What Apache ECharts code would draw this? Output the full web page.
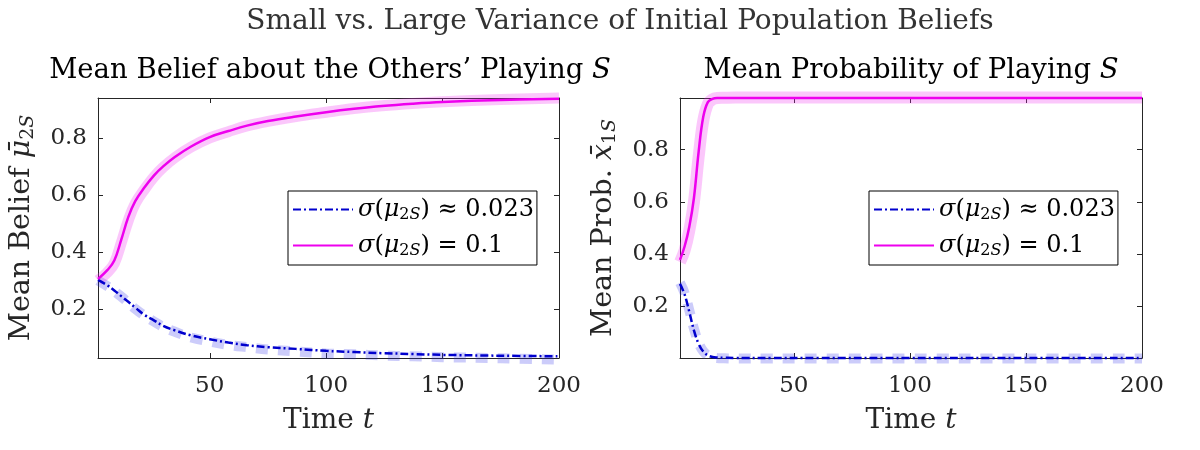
<!DOCTYPE html>
<html>
<head>
<meta charset="utf-8">
<script src="https://cdn.jsdelivr.net/npm/echarts@6/dist/echarts.min.js"></script>
<style>
  html, body { margin: 0; padding: 0; background: #fff; }
  #main { width: 1200px; height: 450px; }
</style>
</head>
<body>
<div id="main"></div>
<script>
// time steps
const timeL = [2, 6, 9, 12, 15, 18, 22, 26, 30, 35, 42, 50, 58, 66, 75, 87, 100, 112, 124, 137, 150, 175, 200];
const timeR = [1, 3, 5, 7, 9, 11, 13, 15, 17, 20, 25, 30, 40, 60, 100, 150, 200];

// left: mean belief (thin = simulated, thick = reference band)
const beliefSmall = [0.302, 0.283, 0.265, 0.245, 0.225, 0.205, 0.179, 0.160, 0.141, 0.125, 0.107, 0.094, 0.082, 0.073, 0.066, 0.060, 0.053, 0.049, 0.045, 0.042, 0.039, 0.036, 0.034];
const beliefLarge = [0.305, 0.336, 0.370, 0.443, 0.522, 0.578, 0.627, 0.668, 0.700, 0.733, 0.770, 0.803, 0.824, 0.843, 0.859, 0.875, 0.890, 0.902, 0.912, 0.920, 0.926, 0.933, 0.937];
const beliefSmallRef = [0.300, 0.280, 0.262, 0.243, 0.222, 0.200, 0.176, 0.156, 0.137, 0.120, 0.100, 0.086, 0.074, 0.066, 0.058, 0.051, 0.044, 0.041, 0.037, 0.034, 0.031, 0.027, 0.022];
const beliefLargeRef = [0.300, 0.328, 0.360, 0.432, 0.510, 0.570, 0.620, 0.663, 0.697, 0.731, 0.768, 0.800, 0.822, 0.842, 0.858, 0.875, 0.890, 0.903, 0.913, 0.921, 0.927, 0.935, 0.940];

// right: mean probability of playing S
const probSmall = [0.286, 0.245, 0.179, 0.108, 0.057, 0.027, 0.012, 0.006, 0.004, 0.003, 0.002, 0.002, 0.002, 0.002, 0.002, 0.002, 0.002];
const probLarge = [0.378, 0.430, 0.505, 0.615, 0.790, 0.925, 0.982, 0.995, 0.998, 0.998, 0.998, 0.998, 0.998, 0.998, 0.998, 0.998, 0.998];
const probSmallRef = [0.290, 0.250, 0.185, 0.115, 0.060, 0.028, 0.012, 0.005, 0.002, 0.001, 0.000, 0.000, 0.000, 0.000, 0.000, 0.000, 0.000];
const probLargeRef = [0.370, 0.415, 0.490, 0.600, 0.770, 0.910, 0.975, 0.993, 0.998, 0.999, 1.000, 1.000, 1.000, 1.000, 1.000, 1.000, 1.000];

const xTicks = [50, 100, 150, 200];
const yTicks = [0.2, 0.4, 0.6, 0.8];
const legendNames = ['small', 'large'];

const pairs = (t, v) => t.map((x, i) => [x, v[i]]);

const FONT = 'DejaVu Serif';
const INK = '#262626';

const mathRich = {
  n: { fontFamily: FONT, fontSize: 24, color: '#000' },
  i: { fontFamily: FONT, fontSize: 24, fontStyle: 'italic', color: '#000' },
  s: { fontFamily: FONT, fontSize: 16, color: '#000', padding: [11, 0, 0, 0] },
  si: { fontFamily: FONT, fontSize: 16, fontStyle: 'italic', color: '#000', padding: [11, 0, 0, 0] }
};

const chart = echarts.init(document.getElementById('main'), null, { renderer: 'canvas' });

function xAxes(grid, min, pos) {
  return {
    gridIndex: grid, type: 'value', min: min, max: 200, position: pos,
    axisLine: { show: true, onZero: false, lineStyle: { color: INK, width: 1 } },
    axisTick: { show: true, inside: true, length: 5, customValues: xTicks, lineStyle: { color: INK } },
    axisLabel: pos === 'bottom'
      ? { show: true, customValues: xTicks, margin: 17, fontSize: 23, fontFamily: FONT, color: INK }
      : { show: false },
    splitLine: { show: false },
    name: pos === 'bottom' ? 'Time {i|t}' : '',
    nameLocation: 'middle', nameGap: 49,
    nameTextStyle: { fontSize: 28, fontFamily: FONT, color: INK,
      rich: { i: { fontSize: 28, fontFamily: FONT, fontStyle: 'italic', color: INK } } }
  };
}

function yAxes(grid, min, max, pos, name) {
  return {
    gridIndex: grid, type: 'value', min: min, max: max, position: pos,
    axisLine: { show: true, onZero: false, lineStyle: { color: INK, width: 1 } },
    axisTick: { show: true, inside: true, length: 5, customValues: yTicks, lineStyle: { color: INK } },
    axisLabel: pos === 'left'
      ? { show: true, customValues: yTicks, margin: 11, fontSize: 23, fontFamily: FONT, color: INK }
      : { show: false },
    splitLine: { show: false },
    name: pos === 'left' ? name : '',
    nameLocation: 'middle', nameGap: 60,
    nameTextStyle: { fontSize: 28.5, fontFamily: FONT, color: INK,
      rich: {
        i: { fontSize: 28.5, fontFamily: FONT, fontStyle: 'italic', color: INK },
        s: { fontSize: 19, fontFamily: FONT, color: INK, padding: [13, 0, 0, 0] },
        si: { fontSize: 19, fontFamily: FONT, fontStyle: 'italic', color: INK, padding: [13, 0, 0, 0] }
      } }
  };
}

function bandSeries(x, y, data, color, width, dash) {
  return {
    type: 'line', xAxisIndex: x, yAxisIndex: y, data: data,
    showSymbol: false, symbol: 'none', smooth: 0.4, clip: false,
    lineStyle: { color: color, width: width, type: dash, cap: 'butt' },
    silent: true, z: 2
  };
}

function thinSeries(x, y, name, data, color, dash) {
  return {
    type: 'line', name: name, xAxisIndex: x, yAxisIndex: y, data: data,
    showSymbol: false, symbol: 'none', smooth: 0.4, clip: false,
    itemStyle: { color: color },
    lineStyle: { color: color, width: 2.5, type: dash },
    silent: true, z: 3
  };
}

function legendAt(left) {
  return {
    orient: 'vertical', left: left, top: 191,
    data: legendNames, selectedMode: false,
    itemWidth: 60, itemHeight: 2, itemGap: 10,
    padding: [6, 3, 6, 4],
    borderColor: '#000', borderWidth: 1, backgroundColor: '#fff',
    itemStyle: { opacity: 0 },
    textStyle: { fontFamily: FONT, fontSize: 24, color: '#000', lineHeight: 25, rich: mathRich },
    formatter: function (name) {
      return name === 'small'
        ? '{i|σ}{n|(}{i|μ}{s|2}{si|S}{n|) ≈ 0.023}'
        : '{i|σ}{n|(}{i|μ}{s|2}{si|S}{n|) = 0.1}';
    }
  };
}

const BLUE = '#0000cd';
const MAGENTA = '#ee00ee';
const BLUE_BAND = 'rgba(40, 40, 235, 0.24)';
const PINK_BAND = 'rgba(240, 40, 240, 0.26)';
const DASHDOT = [8, 3, 2, 3];

chart.setOption({
  animation: false,
  textStyle: { fontFamily: FONT },
  title: [
    { text: 'Small vs. Large Variance of Initial Population Beliefs', left: 620, textAlign: 'center', top: 8, padding: 0,
      textStyle: { fontFamily: FONT, fontSize: 28, fontWeight: 'normal', color: '#333' } },
    { text: 'Mean Belief about the Others’ Playing {i|S}', left: 330, textAlign: 'center', top: 57, padding: 0,
      textStyle: { fontFamily: FONT, fontSize: 27.5, fontWeight: 'normal', color: '#000',
        rich: { i: { fontFamily: FONT, fontSize: 27.5, fontStyle: 'italic', color: '#000' } } } },
    { text: 'Mean Probability of Playing {i|S}', left: 911, textAlign: 'center', top: 57, padding: 0,
      textStyle: { fontFamily: FONT, fontSize: 27.5, fontWeight: 'normal', color: '#000',
        rich: { i: { fontFamily: FONT, fontSize: 27.5, fontStyle: 'italic', color: '#000' } } } }
  ],
  legend: [legendAt(288), legendAt(869)],
  grid: [
    { left: 98, top: 98, width: 461, height: 260, containLabel: false, outerBoundsMode: 'none' },
    { left: 680, top: 98, width: 462, height: 260, containLabel: false, outerBoundsMode: 'none' }
  ],
  xAxis: [
    xAxes(0, 2, 'bottom'), xAxes(0, 2, 'top'),
    xAxes(1, 1, 'bottom'), xAxes(1, 1, 'top')
  ],
  yAxis: [
    yAxes(0, 0.028, 0.94, 'left', 'Mean Belief {i|μ̄}{s|2}{si|S}'), yAxes(0, 0.028, 0.94, 'right', ''),
    yAxes(1, 0.002, 0.998, 'left', 'Mean Prob. {i|x̄}{s|1}{si|S}'), yAxes(1, 0.002, 0.998, 'right', '')
  ],
  series: [
    bandSeries(0, 0, pairs(timeL, beliefSmallRef), BLUE_BAND, 10, [12, 10]),
    bandSeries(0, 0, pairs(timeL, beliefLargeRef), PINK_BAND, 11, 'solid'),
    thinSeries(0, 0, 'small', pairs(timeL, beliefSmall), BLUE, DASHDOT),
    thinSeries(0, 0, 'large', pairs(timeL, beliefLarge), MAGENTA, 'solid'),
    bandSeries(2, 2, pairs(timeR, probSmallRef), BLUE_BAND, 10, [12, 10]),
    bandSeries(2, 2, pairs(timeR, probLargeRef), PINK_BAND, 12, 'solid'),
    thinSeries(2, 2, 'small', pairs(timeR, probSmall), BLUE, DASHDOT),
    thinSeries(2, 2, 'large', pairs(timeR, probLarge), MAGENTA, 'solid')
  ]
});
</script>
</body>
</html>
